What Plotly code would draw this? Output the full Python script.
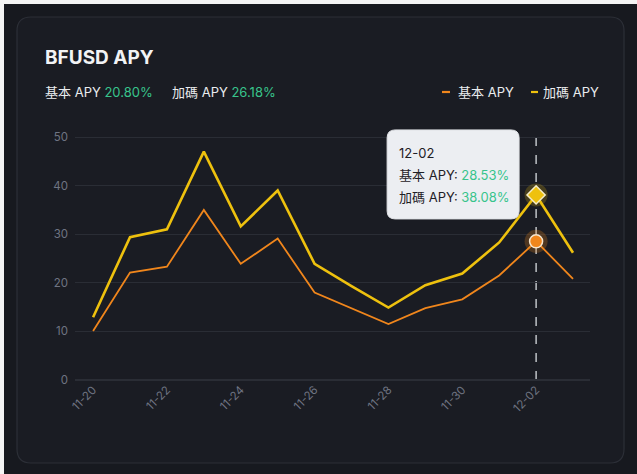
import plotly.graph_objects as go

dates = ["11-20", "11-21", "11-22", "11-23", "11-24", "11-25", "11-26",
         "11-27", "11-28", "11-29", "11-30", "12-01", "12-02", "12-03"]
base_apy = [10.1, 22.1, 23.3, 35.0, 23.9, 29.1, 18.0, 14.7, 11.5, 14.8, 16.6, 21.5, 28.53, 20.80]
bonus_apy = [12.9, 29.4, 31.0, 47.0, 31.6, 39.0, 23.9, 19.3, 14.9, 19.5, 21.9, 28.3, 38.08, 26.18]
tick_labels = ["11-20", "11-22", "11-24", "11-26", "11-28", "11-30", "12-02"]
y_ticks = [0, 10, 20, 30, 40, 50]
hover_idx = 12

OFF = 4                      # page margin (top/left) in the screenshot
W, H = 637 - OFF, 474 - OFF
Y50, Y0 = 137, 380           # reference pixel rows of the 50 and 0 gridlines
TOPREF = 110                 # top of plotting area (reference pixels)
L, T = 75 - OFF, TOPREF - OFF
R, B = W - (590 - OFF), H - (Y0 - OFF)
pw, ph = W - L - R, H - T - B
YMAX = 50 * (Y0 - TOPREF) / (Y0 - Y50)

ORANGE = "#F0861C"
YELLOW = "#EEC10E"
GREEN = "#38C48C"
BG = "#17191f"
FONT = "Inter, Noto Sans CJK TC, sans-serif"


def px(x):
    return (x - OFF - L) / pw


def py(y):
    return (H - B - (y - OFF)) / ph


fig = go.Figure()
fig.add_trace(go.Scatter(x=dates, y=base_apy, mode="lines", name="基本 APY",
                         line=dict(color=ORANGE, width=1.8), hoverinfo="skip"))
fig.add_trace(go.Scatter(x=dates, y=bonus_apy, mode="lines", name="加碼 APY",
                         line=dict(color=YELLOW, width=2.6), hoverinfo="skip"))
hx = dates[hover_idx]
fig.add_trace(go.Scatter(x=[hx], y=[base_apy[hover_idx]], mode="markers",
                         marker=dict(size=23, color="rgba(240,134,28,0.25)", line=dict(width=0)),
                         showlegend=False, hoverinfo="skip"))
fig.add_trace(go.Scatter(x=[hx], y=[bonus_apy[hover_idx]], mode="markers",
                         marker=dict(size=23, color="rgba(238,193,14,0.22)", line=dict(width=0)),
                         showlegend=False, hoverinfo="skip"))
fig.add_trace(go.Scatter(x=[hx], y=[base_apy[hover_idx]], mode="markers",
                         marker=dict(size=13, color=ORANGE, line=dict(width=1.5, color="#f5e6d0")),
                         showlegend=False, hoverinfo="skip"))
fig.add_trace(go.Scatter(x=[hx], y=[bonus_apy[hover_idx]], mode="markers",
                         marker=dict(size=14, symbol="diamond", color=YELLOW,
                                     line=dict(width=1.5, color="#f5ecc8")),
                         showlegend=False, hoverinfo="skip"))

shapes = []
# card with rounded corners
cx0, cy0, cx1, cy1, r = 17, 17, 624, 463, 14
path = (f"M {px(cx0 + r)} {py(cy0)} L {px(cx1 - r)} {py(cy0)} "
        f"Q {px(cx1)} {py(cy0)} {px(cx1)} {py(cy0 + r)} L {px(cx1)} {py(cy1 - r)} "
        f"Q {px(cx1)} {py(cy1)} {px(cx1 - r)} {py(cy1)} L {px(cx0 + r)} {py(cy1)} "
        f"Q {px(cx0)} {py(cy1)} {px(cx0)} {py(cy1 - r)} L {px(cx0)} {py(cy0 + r)} "
        f"Q {px(cx0)} {py(cy0)} {px(cx0 + r)} {py(cy0)} Z")
shapes.append(dict(type="path", xref="paper", yref="paper", path=path,
                   fillcolor="#1a1c23", line=dict(color="#2c2f37", width=1.2), layer="below"))
# legend dashes
shapes.append(dict(type="line", xref="paper", yref="paper", x0=px(442), x1=px(450), y0=py(92), y1=py(92),
                   line=dict(color=ORANGE, width=2.2)))
shapes.append(dict(type="line", xref="paper", yref="paper", x0=px(531), x1=px(538), y0=py(92), y1=py(92),
                   line=dict(color=YELLOW, width=2.2)))
# dashed crosshair
shapes.append(dict(type="line", xref="x", yref="y", x0=hx, x1=hx, y0=0, y1=50,
                   line=dict(color="#d8dbe0", width=1.3, dash="dash"), layer="below"))
# tooltip rounded box anchored at hover point (pixel offsets)
bw, bh, rr = 132, 89, 8
bx1 = -17
bx0 = bx1 - bw
top, bot = 65, 65 - bh
tip = (f"M {bx0 + rr},{top} L {bx1 - rr},{top} Q {bx1},{top} {bx1},{top - rr} "
       f"L {bx1},{bot + rr} Q {bx1},{bot} {bx1 - rr},{bot} L {bx0 + rr},{bot} "
       f"Q {bx0},{bot} {bx0},{bot + rr} L {bx0},{top - rr} Q {bx0},{top} {bx0 + rr},{top} Z")
shapes.append(dict(type="path", xref="x", yref="y", xsizemode="pixel", ysizemode="pixel",
                   xanchor=hover_idx, yanchor=bonus_apy[hover_idx], path=tip,
                   fillcolor="#eceef2", line=dict(color="#dfe1e5", width=1), layer="above"))

annotations = []
annotations.append(dict(xref="paper", yref="paper", x=px(43), y=py(58), xanchor="left", yanchor="middle",
                        text="<b>BFUSD APY</b>", showarrow=False,
                        font=dict(family=FONT, size=19, color="#f2f3f5")))
annotations.append(dict(xref="paper", yref="paper", x=px(43), y=py(92), xanchor="left", yanchor="middle",
                        text=f"基本 APY <span style='color:{GREEN}'>{base_apy[-1]:.2f}%</span>",
                        showarrow=False, font=dict(family=FONT, size=13, color="#eaecef")))
annotations.append(dict(xref="paper", yref="paper", x=px(170), y=py(92), xanchor="left", yanchor="middle",
                        text=f"加碼 APY <span style='color:{GREEN}'>{bonus_apy[-1]:.2f}%</span>",
                        showarrow=False, font=dict(family=FONT, size=13, color="#eaecef")))
annotations.append(dict(xref="paper", yref="paper", x=px(456), y=py(92), xanchor="left", yanchor="middle",
                        text="基本 APY", showarrow=False, font=dict(family=FONT, size=13, color="#eaecef")))
annotations.append(dict(xref="paper", yref="paper", x=px(541), y=py(92), xanchor="left", yanchor="middle",
                        text="加碼 APY", showarrow=False, font=dict(family=FONT, size=13, color="#eaecef")))
tip_lines = [
    dates[hover_idx],
    f"基本 APY: <span style='color:{GREEN}'>{base_apy[hover_idx]:.2f}%</span>",
    f"加碼 APY: <span style='color:{GREEN}'>{bonus_apy[hover_idx]:.2f}%</span>",
]
for i, t in enumerate(tip_lines):
    annotations.append(dict(xref="x", yref="y", x=hover_idx, y=bonus_apy[hover_idx],
                            xanchor="left", yanchor="middle", xshift=bx0 + 10, yshift=top - 23 - 22 * i,
                            align="left", showarrow=False, text=t,
                            font=dict(family=FONT, size=13, color="#1e2026")))

fig.update_layout(
    width=W, height=H,
    margin=dict(l=L, r=R, t=T, b=B),
    paper_bgcolor=BG, plot_bgcolor="rgba(0,0,0,0)",
    showlegend=False,
    shapes=shapes, annotations=annotations,
    font=dict(family=FONT),
    xaxis=dict(type="category", categoryorder="array", categoryarray=dates,
               range=[-0.49, len(dates) - 1 + 0.46],
               tickmode="array", tickvals=tick_labels, ticktext=tick_labels,
               tickangle=-45, showgrid=False, zeroline=False, showline=False,
               ticks="", ticklen=0,
               tickfont=dict(family=FONT, size=11.5, color="#6f7482")),
    yaxis=dict(range=[0, YMAX], tickvals=y_ticks, showgrid=True, gridcolor="#2a2d35", gridwidth=1,
               zeroline=True, zerolinecolor="#2a2d35", showline=False, ticks="",
               tickfont=dict(family=FONT, size=11.5, color="#6f7482"), ticklabelstandoff=6),
)

fig.write_html("out.html",
               post_script="document.body.style.margin='4px 0 0 4px';"
                           "document.body.style.background='#f4f4f4';"
                           "document.documentElement.style.overflow='hidden';")
